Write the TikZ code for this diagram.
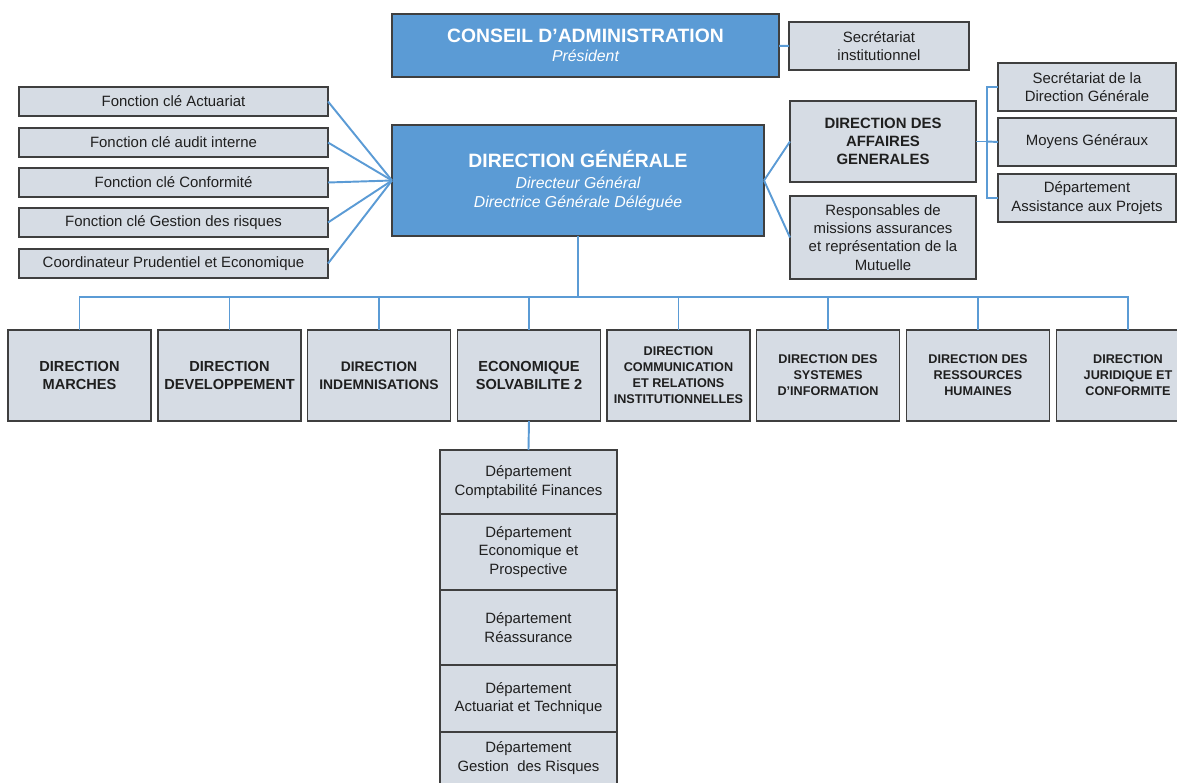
\documentclass[tikz,border=0pt]{standalone}
\usepackage{fontspec}
\setmainfont{Liberation Sans}
\usetikzlibrary{positioning}

\definecolor{dgblue}{HTML}{5B9BD5}
\definecolor{cellgrey}{HTML}{D6DCE4}
\definecolor{edgegrey}{HTML}{3F3F3F}

\tikzset{
  size/.style 2 args={minimum width=#1*0.02cm, minimum height=#2*0.02cm},
  cell/.style={draw=edgegrey, line width=0.8pt, fill=cellgrey, anchor=north west,
    inner sep=0pt, outer sep=0pt, align=center, text=black!88,
    font=\fontsize{8.5}{10.4}\selectfont},
  headcell/.style={cell, fill=dgblue, text=white, font=\fontsize{9}{10.8}\selectfont},
  dir/.style={cell, size={143}{91}, font=\bfseries\fontsize{8.3}{10.3}\selectfont},
  smalldir/.style={dir, font=\bfseries\fontsize{7.2}{9.1}\selectfont},
  dept/.style={cell, minimum width=3.54cm},
  link/.style={draw=dgblue, line width=1.1pt},
}

\begin{document}
\begin{tikzpicture}[x=0.02cm, y=-0.02cm]
  \useasboundingbox (0,0) rectangle (1177,783);
  \clip (0,0) rectangle (1177,783);

  % conseil et direction generale
  \node[headcell, size={387}{63}] (ca) at (392,14)
    {{\bfseries\fontsize{11}{13}\selectfont CONSEIL D’ADMINISTRATION}\\\itshape Président};
  \node[cell, size={180}{48}] (si) at (789,22) {Secrétariat\\institutionnel};
  \draw[link] (ca) -- (si);

  \node[headcell, size={372}{111}] (dg) at (392,125)
    {{\bfseries\fontsize{11}{13}\selectfont DIRECTION GÉNÉRALE}\\[1pt]
     {\itshape Directeur Général}\\{\itshape Directrice Générale Déléguée}};

  % fonctions cles
  \foreach \n/\y/\t in {1/87/Fonction clé Actuariat, 2/128/Fonction clé audit interne,
      3/168/Fonction clé Conformité, 4/208/Fonction clé Gestion des risques,
      5/249/Coordinateur Prudentiel et Economique}{
    \node[cell, size={309}{29}] (f\n) at (19,\y) {\t};
    \draw[link] (f\n.east) -- (dg.west);
  }

  % affaires generales
  \node[cell, size={186}{81}, font=\bfseries\fontsize{8.5}{10.4}\selectfont] (dag) at (790,101)
    {DIRECTION DES\\AFFAIRES\\GENERALES};
  \node[cell, size={186}{83}] (resp) at (790,196)
    {Responsables de\\missions assurances\\et représentation de la\\Mutuelle};
  \draw[link] (dg.east) -- (dag.west);
  \draw[link] (dg.east) -- (resp.west);

  \node[cell, size={178}{48}] (sdg) at (998,63) {Secrétariat de la\\Direction Générale};
  \node[cell, size={178}{48}, below=0.14cm of sdg] (moy) {Moyens Généraux};
  \node[cell, size={178}{48}, below=0.16cm of moy] (dap) {Département\\Assistance aux Projets};
  \draw[link] (dag.east) -- ++(11,0) coordinate (gbus);
  \draw[link] (gbus) |- (sdg.west);
  \draw[link] (gbus) |- (dap.west);
  \draw[link] (gbus) -- (moy.west);

  % directions
  \node[dir] (b1) at (8,330) {DIRECTION\\MARCHES};
  \node[dir, right=0.14cm of b1] (b2) {DIRECTION\\DEVELOPPEMENT};
  \node[dir, right=0.13cm of b2, font=\bfseries\fontsize{7.9}{10.3}\selectfont] (b3)
    {DIRECTION\\INDEMNISATIONS};
  \node[dir, right=0.14cm of b3] (b4) {ECONOMIQUE\\SOLVABILITE 2};
  \node[smalldir, right=0.13cm of b4] (b5)
    {DIRECTION\\COMMUNICATION\\ET RELATIONS\\INSTITUTIONNELLES};
  \node[smalldir, right=0.13cm of b5] (b6) {DIRECTION DES\\SYSTEMES\\D’INFORMATION};
  \node[smalldir, right=0.14cm of b6] (b7) {DIRECTION DES\\RESSOURCES\\HUMAINES};
  \node[smalldir, right=0.14cm of b7] (b8) {DIRECTION\\JURIDIQUE ET\\CONFORMITE};

  \draw[link] (dg.south) -- ++(0,61) coordinate (bus);
  \foreach \i in {1,...,8}
    \draw[link] (b\i.north) |- (bus);

  % departements economique solvabilite 2
  \node[dept, minimum height=1.28cm] (c1) at (440,450) {Département\\Comptabilité Finances};
  \node[dept, minimum height=1.52cm, below=0pt of c1] (c2) {Département\\Economique et\\Prospective};
  \node[dept, minimum height=1.50cm, below=0pt of c2] (c3) {Département\\Réassurance};
  \node[dept, minimum height=1.34cm, below=0pt of c3] (c4) {Département\\Actuariat et Technique};
  \node[dept, minimum height=1.04cm, below=0pt of c4] (c5) {Département\\Gestion\ \ des Risques};
  \draw[link] (b4.south) -- (c1.north);
\end{tikzpicture}
\end{document}
